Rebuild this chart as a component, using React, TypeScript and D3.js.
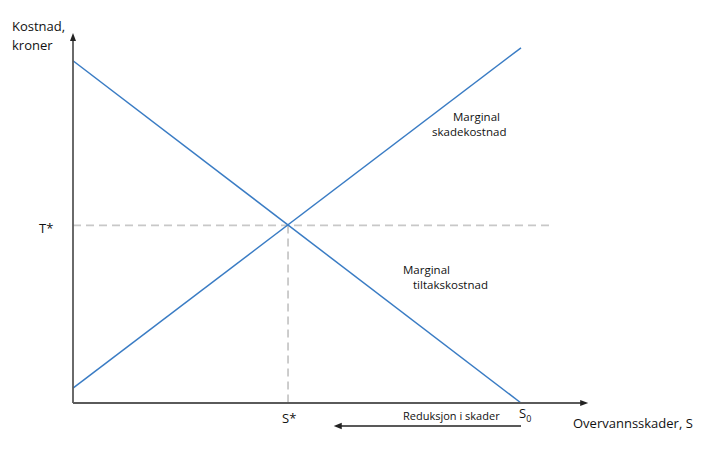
import React from 'react';
import * as d3 from 'd3';

// Quantity of damage S (0 = full reduction, 100 = S0)
const sValues = [0, 100];
const marginalDamage = [4, 96]; // Marginal skadekostnad
const marginalAbatement = [92.5, 0]; // Marginal tiltakskostnad
const optimum = { s: 48, t: 48 };
const axisMax = { x: 115, y: 100 };
const hLineEnd = 107;
const reductionArrow = [100, 58.2]; // from S0 towards lower damage

const width = 719;
const height = 450;
const font = "'Open Sans', 'Noto Sans', sans-serif";

export default function App() {
  const x = d3.scaleLinear().domain([0, 100]).range([73, 521]);
  const y = d3.scaleLinear().domain([0, 100]).range([403, 33]);

  const line = d3
    .line<[number, number]>()
    .x(d => x(d[0]))
    .y(d => y(d[1]));

  const damagePts = sValues.map((s, i) => [s, marginalDamage[i]] as [number, number]);
  const abatePts = sValues.map((s, i) => [s, marginalAbatement[i]] as [number, number]);

  const blue = '#3a7cc4';
  const axisColor = '#5a5a5a';
  const dash = '#c8c8c8';

  const x0 = x(0);
  const y0 = y(0);
  const xEnd = x(axisMax.x);
  const yTop = y(axisMax.y);
  const arrowTip = x(reductionArrow[1]);

  const txt = { fontFamily: font, fontSize: 13, fill: '#111' };

  return (
    <svg width={width} height={height} style={{ position: 'absolute', left: 0, top: 0, background: '#fff' }}>
      {/* dashed guides */}
      <line x1={x0} x2={x(hLineEnd)} y1={y(optimum.t)} y2={y(optimum.t)} stroke={dash} strokeWidth={1.8} strokeDasharray="8,5" />
      <line x1={x(optimum.s)} x2={x(optimum.s)} y1={y(optimum.t)} y2={y0} stroke={dash} strokeWidth={1.8} strokeDasharray="8,5" />

      {/* curves */}
      <path d={line(damagePts) ?? ''} fill="none" stroke={blue} strokeWidth={1.5} />
      <path d={line(abatePts) ?? ''} fill="none" stroke={blue} strokeWidth={1.5} />

      {/* axes */}
      <line x1={x0} x2={x0} y1={y0} y2={yTop + 6} stroke={axisColor} strokeWidth={1.8} />
      <path d={`M${x0 - 3},${yTop + 8} L${x0},${yTop} L${x0 + 3},${yTop + 8} Z`} fill="#222" />
      <line x1={x0} x2={xEnd - 6} y1={y0} y2={y0} stroke={axisColor} strokeWidth={1.8} />
      <path d={`M${xEnd - 8},${y0 - 3} L${xEnd},${y0} L${xEnd - 8},${y0 + 3} Z`} fill="#222" />

      {/* reduction arrow */}
      <line x1={x(reductionArrow[0])} x2={arrowTip + 6} y1={426} y2={426} stroke="#222" strokeWidth={1.5} />
      <path d={`M${arrowTip + 8},422.8 L${arrowTip},426 L${arrowTip + 8},429.2 Z`} fill="#222" />

      {/* labels */}
      <text x={12} y={31} {...txt}>Kostnad,</text>
      <text x={12} y={50} {...txt}>kroner</text>
      <text x={39} y={233} {...txt}>T*</text>
      <text x={x(optimum.s) - 6} y={423} {...txt}>S*</text>
      <text x={519} y={418} {...txt}>
        S<tspan fontSize={9} dy={4}>0</tspan>
      </text>
      <text x={403} y={420} {...txt} fontSize={11}>Reduksjon i skader</text>
      <text x={573} y={428} {...txt}>Overvannsskader, S</text>
      <text x={453} y={121} {...txt} fontSize={11.5}>Marginal</text>
      <text x={432} y={136} {...txt} fontSize={11.5}>skadekostnad</text>
      <text x={403} y={274} {...txt} fontSize={11.5}>Marginal</text>
      <text x={413} y={289} {...txt} fontSize={11.5}>tiltakskostnad</text>
    </svg>
  );
}
